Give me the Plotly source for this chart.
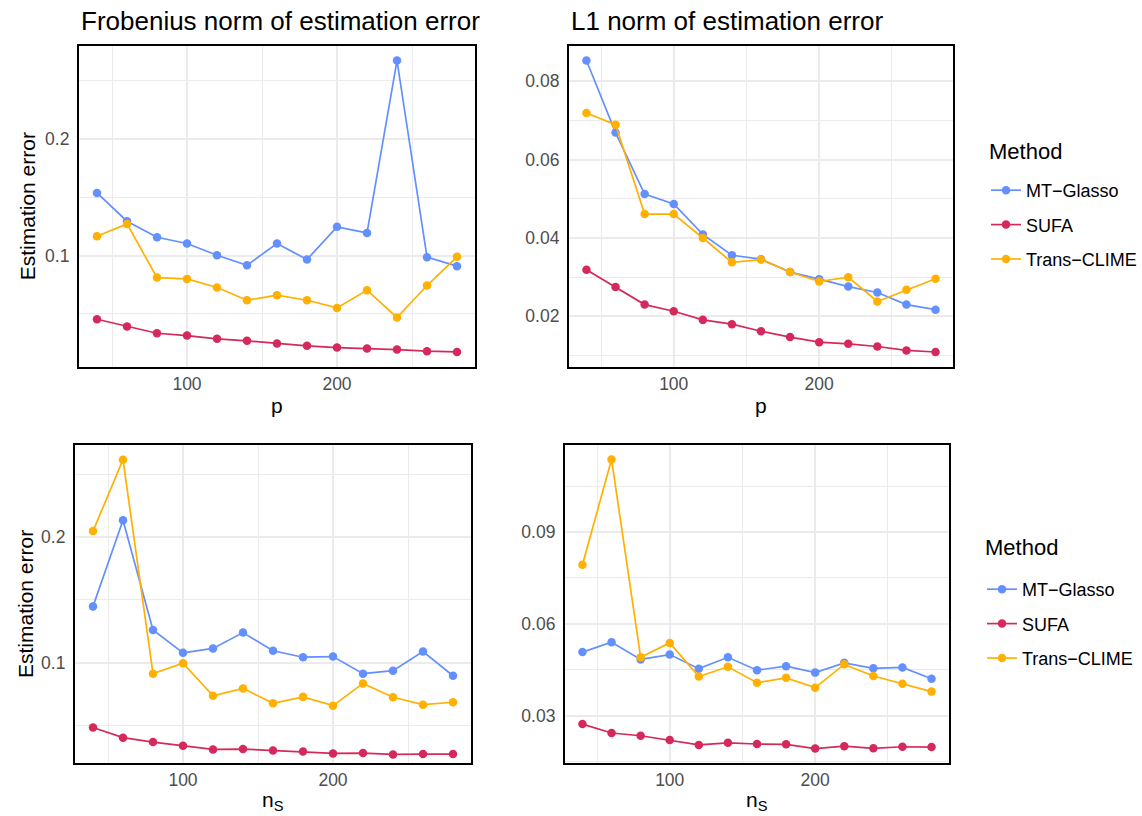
import plotly.graph_objects as go

# ---------------- data ----------------
x_vals = [40, 60, 80, 100, 120, 140, 160, 180, 200, 220, 240, 260, 280]
methods = ["MT−Glasso", "SUFA", "Trans−CLIME"]

# Top-left: Frobenius norm vs p
fro_p_mt = [0.1537, 0.1294, 0.1157, 0.1103, 0.1003, 0.0917, 0.1103, 0.0966, 0.1246, 0.1194, 0.2671, 0.0986, 0.0909]
fro_p_sufa = [0.0454, 0.0391, 0.0334, 0.0314, 0.0286, 0.0269, 0.0246, 0.0226, 0.0211, 0.0203, 0.0194, 0.0180, 0.0174]
fro_p_trans = [0.1166, 0.1271, 0.0811, 0.0800, 0.0726, 0.0617, 0.0660, 0.0617, 0.0551, 0.0703, 0.0469, 0.0743, 0.0989]

# Top-right: L1 norm vs p
l1_p_mt = [0.0853, 0.0669, 0.0512, 0.0487, 0.0409, 0.0356, 0.0346, 0.0313, 0.0295, 0.0276, 0.0261, 0.0230, 0.0217]
l1_p_sufa = [0.0319, 0.0275, 0.0230, 0.0213, 0.0191, 0.0180, 0.0162, 0.0147, 0.0134, 0.0130, 0.0123, 0.0113, 0.0109]
l1_p_trans = [0.0719, 0.0689, 0.0461, 0.0461, 0.0400, 0.0338, 0.0345, 0.0313, 0.0289, 0.0300, 0.0238, 0.0268, 0.0296]

# Bottom-left: Frobenius norm vs n_S
fro_n_mt = [0.1448, 0.2134, 0.1260, 0.1078, 0.1113, 0.1239, 0.1094, 0.1043, 0.1048, 0.0912, 0.0936, 0.1088, 0.0895]
fro_n_sufa = [0.0483, 0.0402, 0.0367, 0.0338, 0.0308, 0.0311, 0.0300, 0.0292, 0.0276, 0.0279, 0.0268, 0.0271, 0.0271]
fro_n_trans = [0.2048, 0.2617, 0.0912, 0.0995, 0.0735, 0.0794, 0.0676, 0.0727, 0.0657, 0.0834, 0.0724, 0.0665, 0.0684]

# Bottom-right: L1 norm vs n_S
l1_n_mt = [0.0508, 0.0540, 0.0484, 0.0500, 0.0454, 0.0491, 0.0449, 0.0462, 0.0441, 0.0473, 0.0455, 0.0458, 0.0421]
l1_n_sufa = [0.0273, 0.0244, 0.0235, 0.0221, 0.0205, 0.0212, 0.0208, 0.0207, 0.0193, 0.0201, 0.0194, 0.0199, 0.0198]
l1_n_trans = [0.0793, 0.1137, 0.0491, 0.0538, 0.0428, 0.0460, 0.0408, 0.0424, 0.0392, 0.0468, 0.0430, 0.0405, 0.0379]

colors = {"MT−Glasso": "#648FFF", "SUFA": "#D6295B", "Trans−CLIME": "#FFB000"}

panels = [
    ("", {"MT−Glasso": fro_p_mt, "SUFA": fro_p_sufa, "Trans−CLIME": fro_p_trans}, "legend"),
    ("2", {"MT−Glasso": l1_p_mt, "SUFA": l1_p_sufa, "Trans−CLIME": l1_p_trans}, None),
    ("3", {"MT−Glasso": fro_n_mt, "SUFA": fro_n_sufa, "Trans−CLIME": fro_n_trans}, "legend2"),
    ("4", {"MT−Glasso": l1_n_mt, "SUFA": l1_n_sufa, "Trans−CLIME": l1_n_trans}, None),
]

W, H = 1142, 816
FONT = "Liberation Sans, Arial, Helvetica, sans-serif"

fig = go.Figure()
for suf, series, leg in panels:
    for m in methods:
        fig.add_trace(go.Scatter(
            x=x_vals, y=series[m], mode="lines+markers", name=m,
            line=dict(color=colors[m], width=1.7),
            marker=dict(color=colors[m], size=8.5),
            xaxis="x" + suf, yaxis="y" + suf,
            showlegend=leg is not None,
            legend=leg if leg is not None else "legend",
            legendgroup=(leg or "") + m,
        ))

# panel pixel boxes (left, right, top, bottom)
boxes = {
    "": (79, 475, 46, 366.5),
    "2": (569, 953, 46, 366.5),
    "3": (75, 471, 445, 763),
    "4": (565, 949, 445, 763),
}
yranges = {
    "": [0.0049, 0.2796],
    "2": [0.0072, 0.0890],
    "3": [0.0200, 0.2734],
    "4": [0.0146, 0.1184],
}
ydticks = {"": (0.1, 0.05), "2": (0.02, 0.01), "3": (0.1, 0.05), "4": (0.03, 0.015)}

grid = "#EBEBEB"
layout = dict(
    width=W, height=H,
    margin=dict(l=0, r=0, t=0, b=0),
    paper_bgcolor="white", plot_bgcolor="white",
    font=dict(family=FONT, color="black"),
    showlegend=True,
)
for suf, (l, r, t, b) in boxes.items():
    xd = [l / W, r / W]
    yd = [1 - b / H, 1 - t / H]
    mj, mn = ydticks[suf]
    layout["xaxis" + suf] = dict(
        domain=xd, range=[28, 292], anchor="y" + suf,
        tick0=0, dtick=100, showgrid=True, gridcolor=grid, gridwidth=1.5,
        minor=dict(dtick=50, tick0=0, showgrid=True, gridcolor=grid, gridwidth=0.8),
        showline=True, mirror=True, linecolor="black", linewidth=2.2,
        zeroline=False, ticks="", ticklen=0,
        tickfont=dict(size=17.5, color="#4D4D4D", family=FONT),
    )
    layout["yaxis" + suf] = dict(
        domain=yd, range=yranges[suf], anchor="x" + suf,
        tick0=0, dtick=mj, showgrid=True, gridcolor=grid, gridwidth=1.5,
        minor=dict(dtick=mn, tick0=0, showgrid=True, gridcolor=grid, gridwidth=0.8),
        showline=True, mirror=True, linecolor="black", linewidth=2.2,
        zeroline=False, ticks="", ticklen=0, ticklabelstandoff=4,
        tickfont=dict(size=17.5, color="#4D4D4D", family=FONT),
    )

layout["legend"] = dict(
    x=986 / W, y=1 - 172 / H, xanchor="left", yanchor="top",
    font=dict(size=18, color="black", family=FONT),
    tracegroupgap=8, bgcolor="rgba(0,0,0,0)",
)
layout["legend2"] = dict(
    x=982 / W, y=1 - 571 / H, xanchor="left", yanchor="top",
    font=dict(size=18, color="black", family=FONT),
    tracegroupgap=8, bgcolor="rgba(0,0,0,0)",
)

annotations = []
# legend titles
for xpix, ypix in [(987, 151.5), (983, 547)]:
    annotations.append(dict(text="Method", x=xpix / W, y=1 - ypix / H,
                            xref="paper", yref="paper", xanchor="left", yanchor="middle",
                            showarrow=False, font=dict(size=22, family=FONT, color="black")))
# titles
annotations.append(dict(text="Frobenius norm of estimation error", x=79 / W, y=1 - 21 / H,
                        xref="paper", yref="paper", xanchor="left", yanchor="middle",
                        showarrow=False, font=dict(size=26, family=FONT, color="black")))
annotations.append(dict(text="L1 norm of estimation error", x=569 / W, y=1 - 21 / H,
                        xref="paper", yref="paper", xanchor="left", yanchor="middle",
                        showarrow=False, font=dict(size=26, family=FONT, color="black")))
# y-axis titles
for ypix, xpix in [((46 + 366.5) / 2, 27), ((445 + 763) / 2, 25)]:
    annotations.append(dict(text="Estimation error", x=xpix / W, y=1 - ypix / H,
                            xref="paper", yref="paper", xanchor="center", yanchor="middle",
                            textangle=-90, showarrow=False,
                            font=dict(size=21, family=FONT, color="black")))
# x-axis titles
for (l, r, ypix, txt) in [(79, 475, 405, "p"), (569, 953, 405, "p"),
                           (75, 471, 801, "n<sub>S</sub>"), (565, 949, 801, "n<sub>S</sub>")]:
    annotations.append(dict(text=txt, x=(l + r) / 2 / W, y=1 - ypix / H,
                            xref="paper", yref="paper", xanchor="center", yanchor="middle",
                            showarrow=False, font=dict(size=21, family=FONT, color="black")))
layout["annotations"] = annotations

fig.update_layout(**layout)
fig.write_html("out.html", config={"displayModeBar": False},
               post_script="document.body.style.margin='0';")
